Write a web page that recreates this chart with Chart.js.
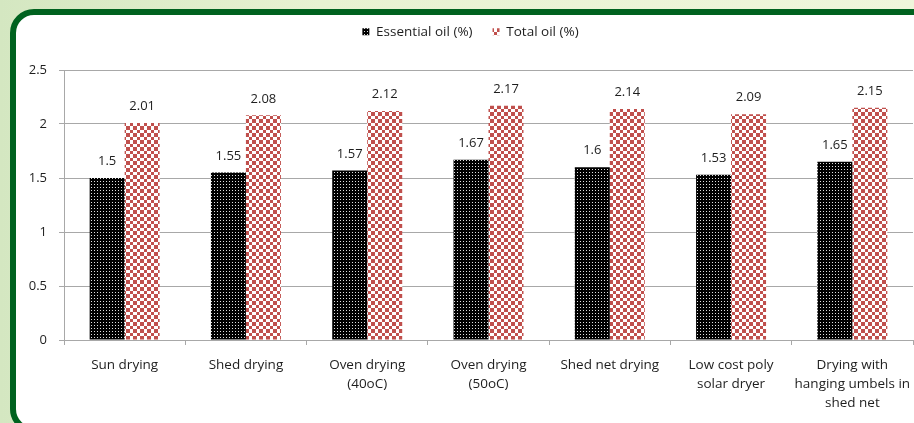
<!DOCTYPE html>
<html>
<head>
<meta charset="utf-8">
<script src="https://cdn.jsdelivr.net/npm/chart.js@4.4.1/dist/chart.umd.min.js"></script>
<style>
  html, body { margin:0; padding:0; }
  body { width:914px; height:423px; overflow:hidden; position:relative;
         background: linear-gradient(to right, #d4e7c1 0%, #e8f2d2 35%, #eff6db 100%); }
  #frame { position:absolute; left:10px; top:9px; width:1000px; height:412px;
           border:6px solid #00621f; border-radius:24px; background:#fff; }
  #wrap { position:absolute; left:0; top:0; width:914px; height:423px; }
</style>
</head>
<body>
<div id="frame"></div>
<div id="wrap"><canvas id="c" width="914" height="423"></canvas></div>
<script>
const categories = [
  ["Sun drying"],
  ["Shed drying"],
  ["Oven drying", "(40oC)"],
  ["Oven drying", "(50oC)"],
  ["Shed net drying"],
  ["Low cost poly", "solar dryer"],
  ["Drying with", "hanging umbels in", "shed net"]
];
const essentialOil = [1.5, 1.55, 1.57, 1.67, 1.6, 1.53, 1.65];
const totalOil = [2.01, 2.08, 2.12, 2.17, 2.14, 2.09, 2.15];
const seriesNames = ["Essential oil (%)", "Total oil (%)"];
const yTicks = [0, 0.5, 1, 1.5, 2, 2.5];

function dotPattern() {
  const p = document.createElement('canvas'); p.width = 3; p.height = 3;
  const g = p.getContext('2d');
  g.fillStyle = '#000'; g.fillRect(0, 0, 3, 3);
  g.fillStyle = '#e0e0e0'; g.fillRect(1, 1, 1, 1);
  return g.createPattern(p, 'repeat');
}
function checkPattern() {
  const p = document.createElement('canvas'); p.width = 14; p.height = 14;
  const g = p.getContext('2d');
  g.fillStyle = '#fff'; g.fillRect(0, 0, 14, 14);
  g.fillStyle = '#c0504d';
  const b = [0, 4, 7, 11, 14];
  for (let i = 0; i < 4; i++) for (let j = 0; j < 4; j++) {
    if ((i + j) % 2 === 0) g.fillRect(b[i], b[j], b[i+1]-b[i], b[j+1]-b[j]);
  }
  return g.createPattern(p, 'repeat');
}

const FONT = "'Open Sans', 'Noto Sans', sans-serif";
const TEXT = '#1e1e1e';
const GRID = '#a8a8a8';

const valueLabels = {
  id: 'valueLabels',
  afterDatasetsDraw(chart) {
    const ctx = chart.ctx;
    ctx.save();
    ctx.font = "13px " + FONT;
    ctx.fillStyle = TEXT;
    ctx.textAlign = 'center';
    ctx.textBaseline = 'bottom';
    chart.data.datasets.forEach((ds, di) => {
      chart.getDatasetMeta(di).data.forEach((bar, i) => {
        ctx.fillText(String(ds.data[i]), bar.x, bar.y - 10);
      });
    });
    ctx.restore();
  }
};

const legendSpace = {
  id: 'legendSpace',
  beforeLayout(chart) {
    const lg = chart.legend;
    if (lg && !lg._patched) {
      const orig = lg.fit;
      lg.fit = function () { orig.call(this); this.height = 65; };
      lg._patched = true;
    }
  },
  afterLayout(chart) {
    const lg = chart.legend;
    if (lg) { lg.left += 14; lg.right += 14; }
  }
};

new Chart(document.getElementById('c'), {
  type: 'bar',
  data: {
    labels: categories,
    datasets: [
      { label: seriesNames[0], data: essentialOil, backgroundColor: dotPattern(), borderWidth: 0,
        categoryPercentage: 0.577, barPercentage: 1.0 },
      { label: seriesNames[1], data: totalOil, backgroundColor: checkPattern(), borderWidth: 0,
        categoryPercentage: 0.577, barPercentage: 1.0 }
    ]
  },
  options: {
    responsive: false,
    animation: false,
    devicePixelRatio: 1,
    layout: { padding: { top: 5, right: 1, left: 0, bottom: 0 } },
    plugins: {
      legend: {
        position: 'top',
        labels: { boxWidth: 7, boxHeight: 7, padding: 20, color: TEXT,
                  font: { family: FONT, size: 13.5 } }
      },
      tooltip: { enabled: false }
    },
    scales: {
      x: {
        grid: { display: true, drawOnChartArea: false, drawTicks: true, tickLength: 5, color: GRID, offset: true },
        border: { display: true, color: GRID, width: 1 },
        ticks: { color: TEXT, padding: 11, maxRotation: 0, autoSkip: false,
                 font: { family: FONT, size: 13.5, lineHeight: 1.4 } },
        afterFit(s) { s.height = 83; s.paddingLeft = 0; s.paddingRight = 0; }
      },
      y: {
        min: 0, max: 2.5,
        afterBuildTicks(s) { s.ticks = yTicks.map(v => ({ value: v })); },
        grid: { color: GRID, tickLength: 5, drawTicks: true },
        border: { display: true, color: GRID, width: 1 },
        ticks: { color: TEXT, padding: 12, font: { family: FONT, size: 13 },
                 callback: v => String(v) },
        afterFit(s) { s.width = 64; }
      }
    }
  },
  plugins: [valueLabels, legendSpace]
});
</script>
</body>
</html>
